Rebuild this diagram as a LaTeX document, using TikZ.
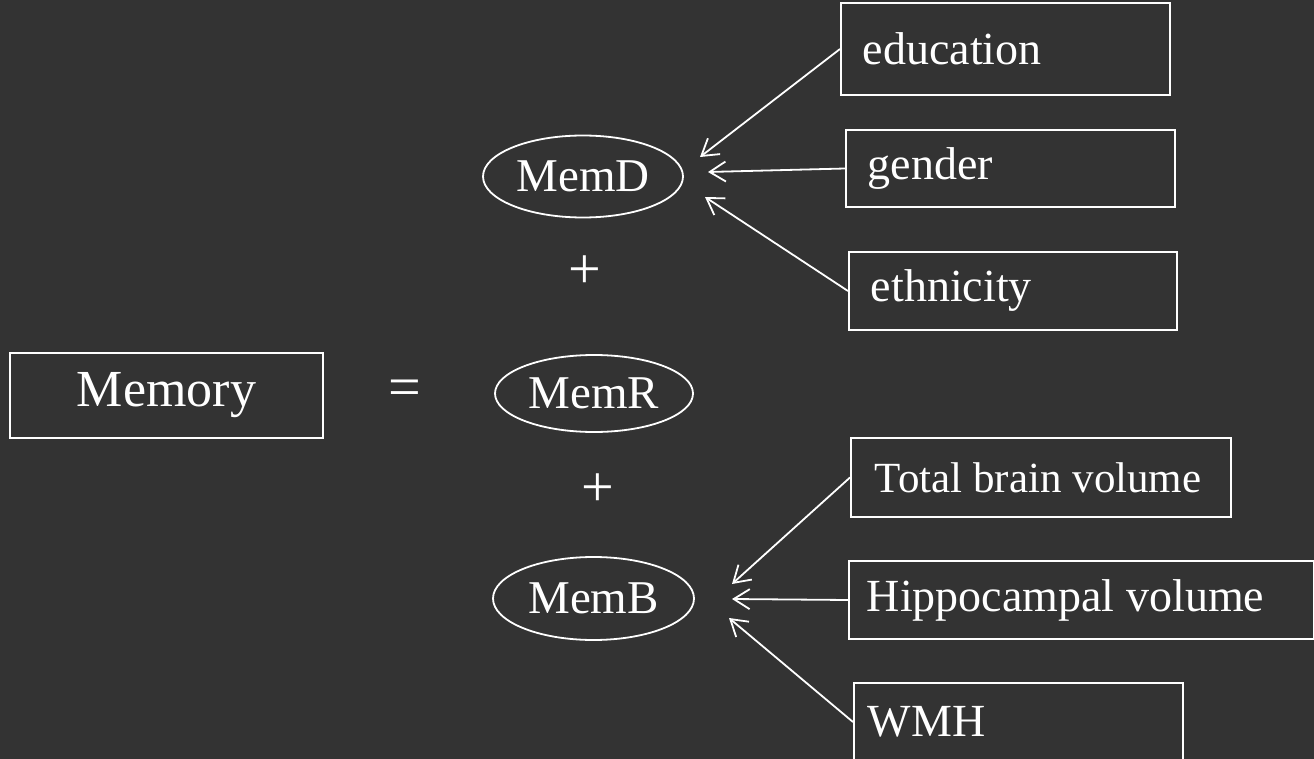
\documentclass[tikz,border=0pt]{standalone}
\usepackage{fontspec}
\setmainfont{Liberation Serif}
\definecolor{slate}{HTML}{333333}
\usetikzlibrary{arrows.meta, shapes.geometric}

\begin{document}
\begin{tikzpicture}[x=1pt, y=-1pt,
      every node/.style={text=white},
      vbox/.style={draw=white, line width=1.8pt, minimum height=78pt,
                   inner xsep=22pt, anchor=west, align=flush left,
                   font=\fontsize{46}{50}\selectfont},
      vell/.style={ellipse, draw=white, line width=1.8pt, inner sep=0pt,
                   minimum width=200pt, minimum height=82pt,
                   font=\fontsize{47}{50}\selectfont},
      sym/.style={font=\fontsize{58}{60}\selectfont},
      arr/.style={-{Straight Barb[length=16pt, width=20pt]}, line width=1.8pt, draw=white}
    ]
    \useasboundingbox[fill=slate] (0,0) rectangle (1314,759);
    % left side of the equation
    \node[draw=white, line width=1.8pt, minimum width=313pt, minimum height=85pt,
          font=\fontsize{52}{56}\selectfont] (mem) at (166.5,395.5) {Memory};
    \node[sym] (eq) at (405,393) {=};
    % the three terms
    \node[vell] (memd) at (583,176.5) {MemD};
    \node[sym] (p1) at (585,272) {+};
    \node[vell, minimum width=198pt, minimum height=77pt] (memr) at (594,393.5) {MemR};
    \node[sym] (p2) at (598,490) {+};
    \node[vell, minimum width=201pt, minimum height=83pt] (memb) at (593.5,598.5) {MemB};
    % predictors
    \node[vbox, minimum height=92pt, text width=285pt] (edu) at (840,49) {education};
    \node[vbox, minimum height=77pt, text width=285pt] (gen) at (845,168.5) {gender};
    \node[vbox, text width=284pt] (eth) at (848,291) {ethnicity};
    \node[vbox, minimum height=79pt, inner xsep=24pt, text width=332pt,
          font=\fontsize{43}{47}\selectfont] (tbv) at (850,477.5) {Total brain volume};
    \node[vbox, inner xsep=18pt, text width=429pt] (hip) at (848,600) {Hippocampal volume};
    \node[vbox, inner xsep=14pt, text width=301pt] (wmh) at (853,722) {WMH};
    % arrow ends
    \coordinate (d1) at (700,157);
    \coordinate (d2) at (708,172);
    \coordinate (d3) at (705,197);
    \coordinate (b1) at (732,584);
    \coordinate (b2) at (732,599);
    \coordinate (b3) at (729,618);
    \draw[arr] (edu.west)--(d1); \draw[arr] (gen.west)--(d2);
    \draw[arr] (eth.west)--(d3);
    \draw[arr] (tbv.west)--(b1); \draw[arr] (hip.west)--(b2);
    \draw[arr] (wmh.west)--(b3);
  \end{tikzpicture}
\end{document}
